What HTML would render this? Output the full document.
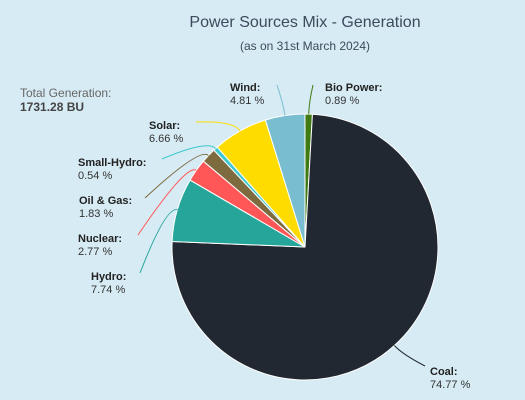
<!DOCTYPE html>
<html><head><meta charset="utf-8"><style>
body{margin:0;background:#d7ebf4;}
svg{display:block;font-family:"Liberation Sans",sans-serif;}
.b{font-weight:bold;fill:#222;font-size:11px}
.v{fill:#333;font-size:11px}
</style></head><body>
<svg id="c" width="525" height="400">
<rect width="525" height="400" fill="#d7ebf4"/>
<text x="305" y="27" text-anchor="middle" font-size="16" fill="#3d4a5c">Power Sources Mix - Generation</text>
<text x="305" y="50" text-anchor="middle" font-size="12" fill="#3d4a5c">(as on 31st March 2024)</text>
<text x="20" y="97" font-size="12" fill="#666">Total Generation:</text>
<text x="20" y="111" font-size="12" font-weight="bold" fill="#444">1731.28 BU</text>
<g id="slices"></g><g id="labels"></g>
</svg>
<script>
const categories=["Bio Power","Coal","Hydro","Nuclear","Oil & Gas","Small-Hydro","Solar","Wind"];
const values=[0.89,74.77,7.74,2.77,1.83,0.54,6.66,4.81];
const colors=["#3f7a12","#222831","#26a69a","#ff5757","#7d6a3e","#3cc8cc","#ffdc00","#78bdd0"];
const labelPos=[[325,91,313,85,"start"],[430,375,425,366,"start"],[91,280,140,273,"start"],[78,242,138,235,"start"],[79,204,145,198,"start"],[78,166,162,159,"start"],[149,129,196,122,"start"],[230,91,277,85,"start"]];
const cx=305,cy=247,r=133,ns="http://www.w3.org/2000/svg";
const total=values.reduce((a,b)=>a+b,0);
const sg=document.getElementById('slices'),lg=document.getElementById('labels');
function pt(a,rr){return [cx+rr*Math.sin(a),cy-rr*Math.cos(a)];}
let acc=0;
values.forEach((v,i)=>{
 const a0=acc/total*2*Math.PI; acc+=v; const a1=acc/total*2*Math.PI;
 const p0=pt(a0,r),p1=pt(a1,r);
 const p=document.createElementNS(ns,'path');
 p.setAttribute('d',`M${cx},${cy}L${p0[0]},${p0[1]}A${r},${r} 0 ${a1-a0>Math.PI?1:0} 1 ${p1[0]},${p1[1]}Z`);
 p.setAttribute('fill',colors[i]);p.setAttribute('stroke','#fff');p.setAttribute('stroke-width','1');
 
 
 sg.appendChild(p);
 const am=(a0+a1)/2, s=pt(am,r), m=pt(am,r+12), L=labelPos[i];
 const ln=document.createElementNS(ns,'path');
 ln.setAttribute('d',`M${s[0]},${s[1]}Q${m[0]},${m[1]} ${L[2]},${L[3]}`);
 ln.setAttribute('fill','none');ln.setAttribute('stroke',colors[i]);ln.setAttribute('stroke-width','1');
 
 
 lg.appendChild(ln);
 const t=document.createElementNS(ns,'text');
 t.setAttribute('x',L[0]);t.setAttribute('y',L[1]);t.setAttribute('class','b');
 t.textContent=categories[i]+':';
 
 
 lg.appendChild(t);
 const t2=document.createElementNS(ns,'text');
 t2.setAttribute('x',L[0]);t2.setAttribute('y',L[1]+13);t2.setAttribute('class','v');
 t2.textContent=v.toFixed(2)+' %';
 
 
 lg.appendChild(t2);
});
</script>
</body></html>
